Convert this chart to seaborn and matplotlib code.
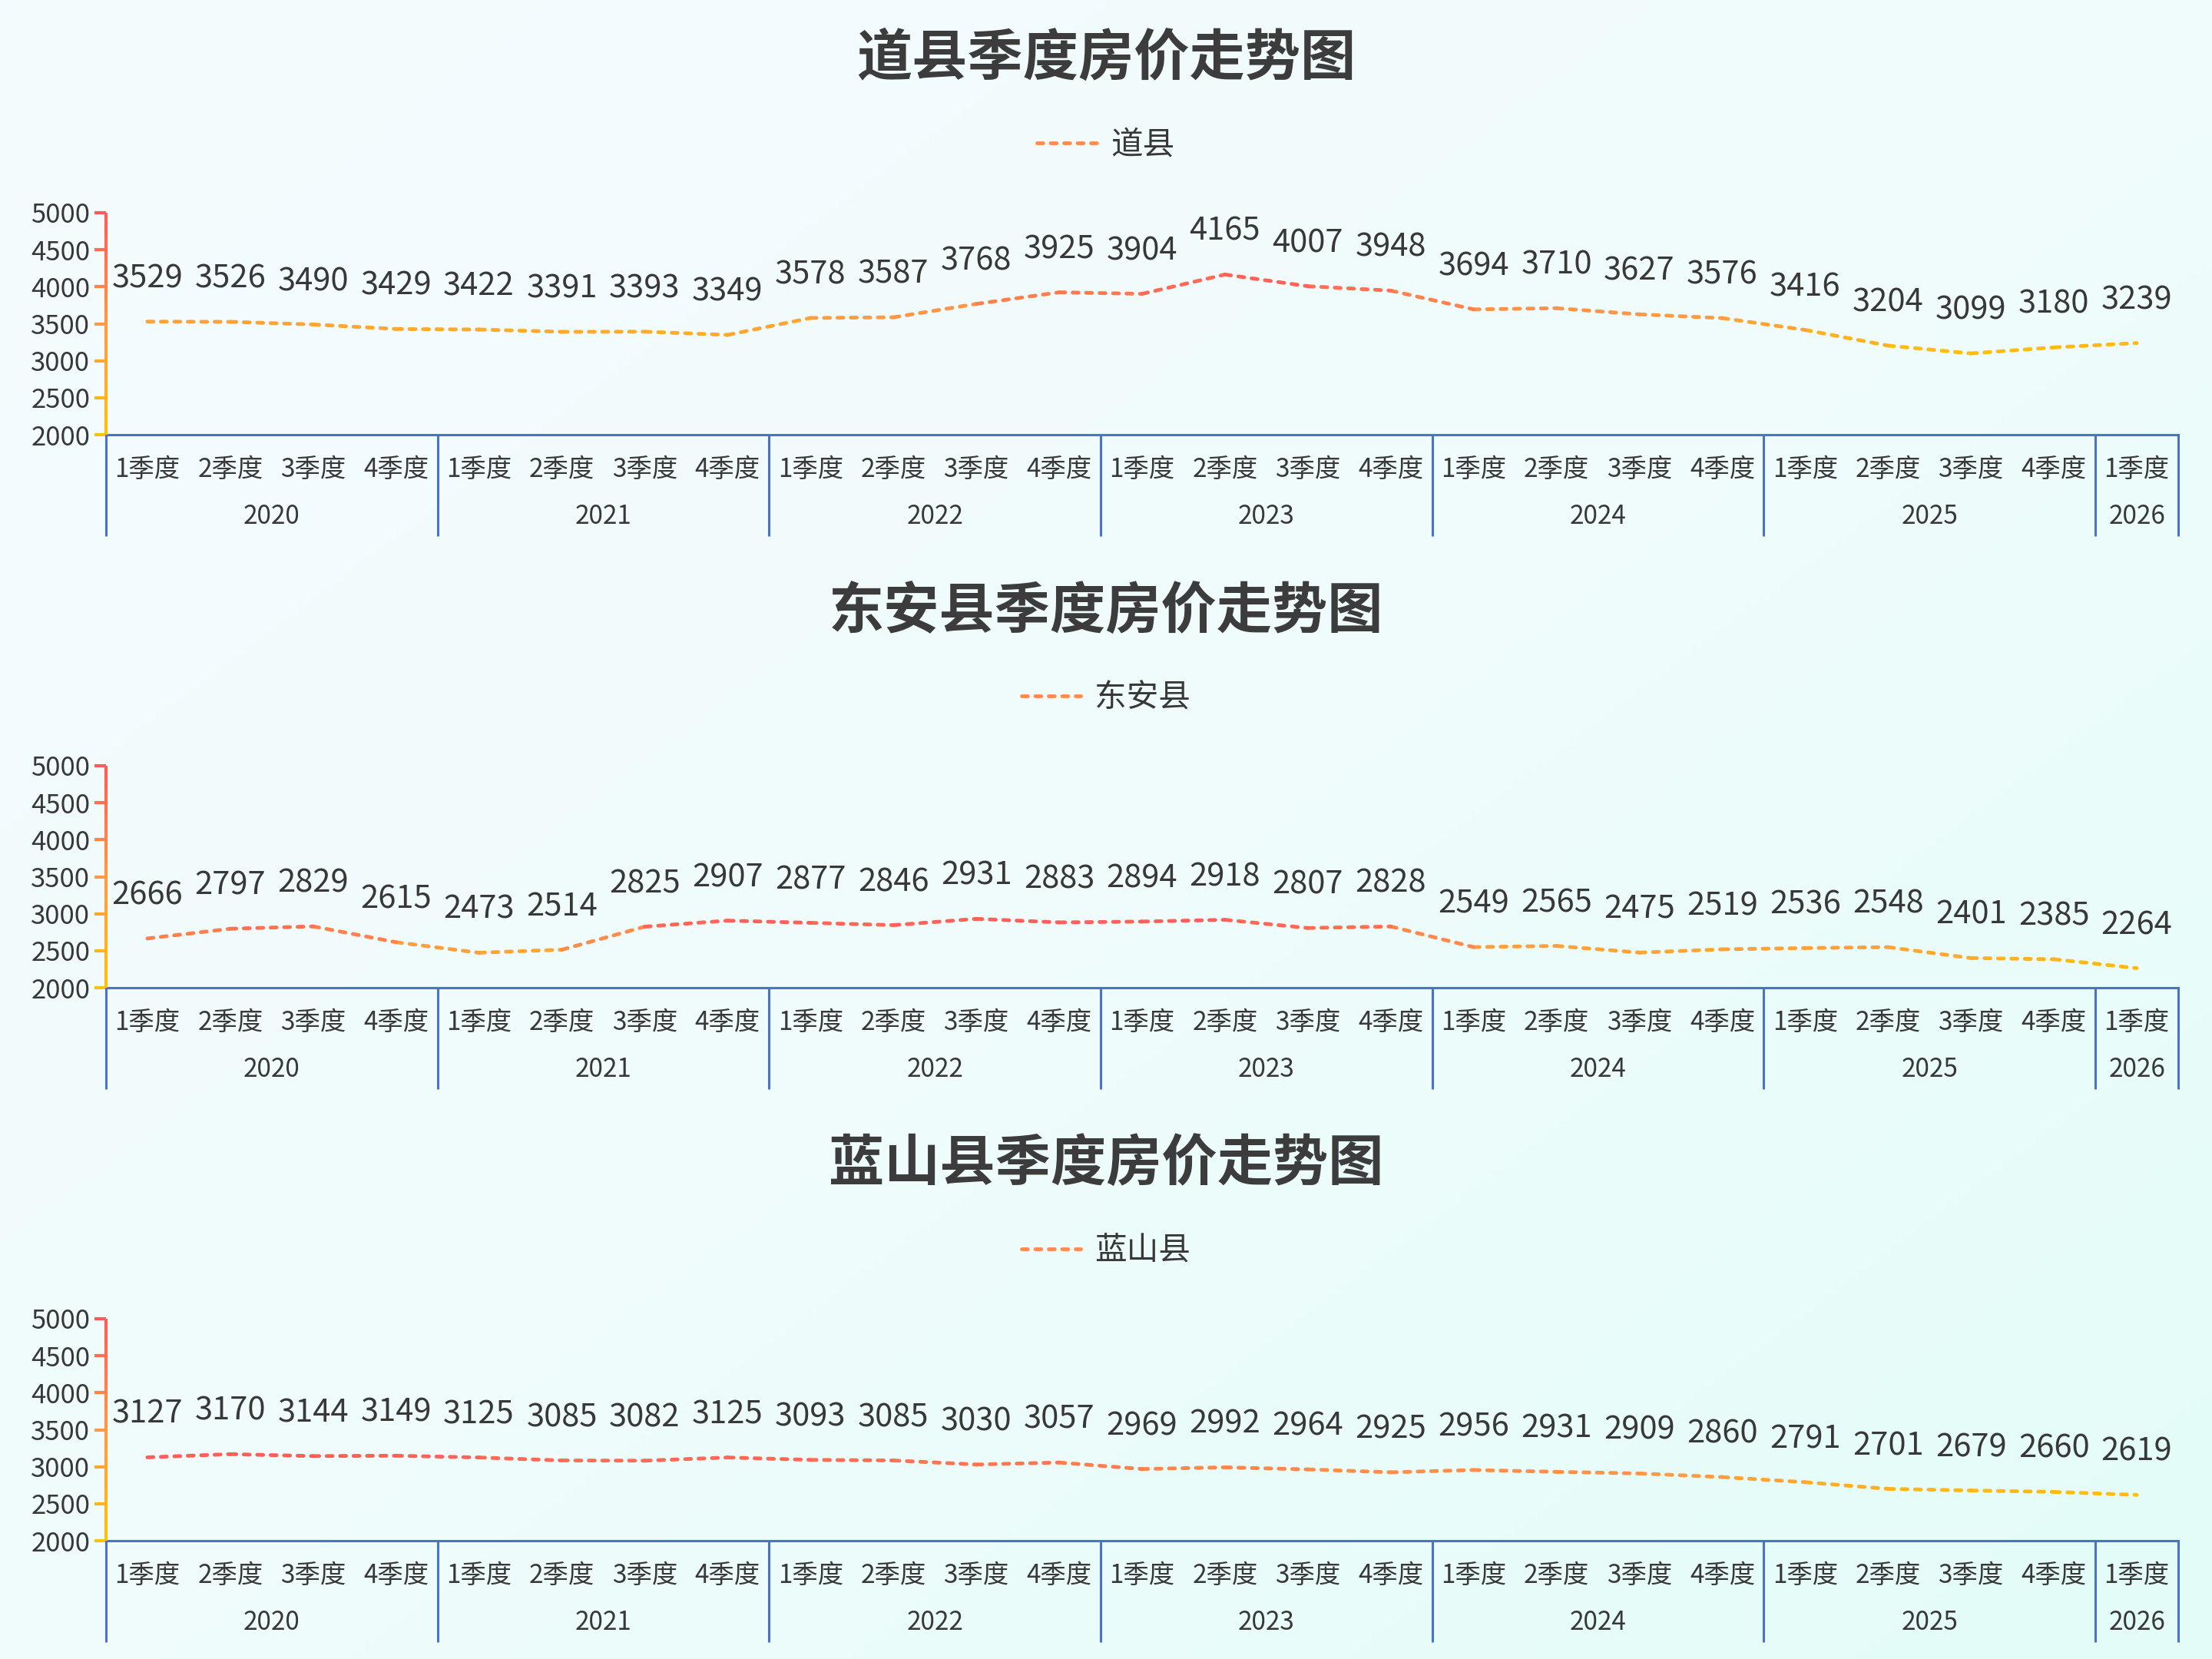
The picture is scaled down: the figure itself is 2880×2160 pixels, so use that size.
import numpy as np
import pandas as pd
import seaborn as sns
import matplotlib
matplotlib.use('Agg')
import matplotlib.pyplot as plt
from matplotlib.colors import LinearSegmentedColormap, Normalize
from matplotlib.collections import LineCollection
from matplotlib.lines import Line2D

# data
quarters = ['1季度', '2季度', '3季度', '4季度']
years = ['2020', '2021', '2022', '2023', '2024', '2025', '2026']
counties = ['道县', '东安县', '蓝山县']
daoxian = [3529, 3526, 3490, 3429, 3422, 3391, 3393, 3349, 3578, 3587, 3768, 3925, 3904,
           4165, 4007, 3948, 3694, 3710, 3627, 3576, 3416, 3204, 3099, 3180, 3239]
dongan = [2666, 2797, 2829, 2615, 2473, 2514, 2825, 2907, 2877, 2846, 2931, 2883, 2894,
          2918, 2807, 2828, 2549, 2565, 2475, 2519, 2536, 2548, 2401, 2385, 2264]
lanshan = [3127, 3170, 3144, 3149, 3125, 3085, 3082, 3125, 3093, 3085, 3030, 3057, 2969,
           2992, 2964, 2925, 2956, 2931, 2909, 2860, 2791, 2701, 2679, 2660, 2619]
series = [daoxian, dongan, lanshan]

sns.set_theme(style='white')
plt.rcParams['font.family'] = ['Noto Sans CJK SC', 'DejaVu Sans']
plt.rcParams['axes.unicode_minus'] = False

text_color = '#383838'
axis_blue = '#4a72c9'
warm = LinearSegmentedColormap.from_list('warm', ['#ffc107', '#ff9a45', '#ff5a5a'])
dash = (0, (1.6, 2.0))

fig = plt.figure(figsize=(14.4, 10.8), dpi=200)

# soft background gradient
bg = fig.add_axes([0, 0, 1, 1], zorder=-10)
gx, gy = np.meshgrid(np.linspace(0, 1, 200), np.linspace(0, 1, 200))
bg_cmap = LinearSegmentedColormap.from_list('bg', ['#f4fbfe', '#f0fcfc', '#e3fcf8'])
bg.imshow((gx + gy) / 2, cmap=bg_cmap, aspect='auto', extent=[0, 1, 0, 1], origin='upper')
bg.axis('off')

H = 2160.0
for k, (name, vals) in enumerate(zip(counties, series)):
    top_px = 277 + 720 * k
    bot_px = 566 + 720 * k
    ax = fig.add_axes([138 / 2880, 1 - bot_px / H, (2836 - 138) / 2880, (bot_px - top_px) / H])
    ax.set_facecolor('none')

    n = len(vals)
    xs = np.arange(n)
    vmin, vmax = min(vals), max(vals)

    # one row pair per segment, coloured by the segment's level
    rows = []
    for i in range(n - 1):
        lvl = (vals[i] + vals[i + 1]) / 2
        rows.append({'seg': i, 'x': xs[i], 'y': vals[i], 'level': lvl})
        rows.append({'seg': i, 'x': xs[i + 1], 'y': vals[i + 1], 'level': lvl})
    df = pd.DataFrame(rows)
    sns.lineplot(data=df, x='x', y='y', hue='level', units='seg', estimator=None, sort=False,
                 palette=warm, hue_norm=Normalize(vmin, vmax), legend=False,
                 linewidth=1.75, ax=ax)
    for ln in ax.lines:
        ln.set_linestyle(dash)
        ln.set_dash_capstyle('round')

    ax.set_xlim(-0.5, n - 0.5)
    ax.set_ylim(2000, 5000)
    ax.set_yticks(range(2000, 5001, 500))
    ax.set_xticks([])
    ax.set_xlabel('')
    ax.set_ylabel('')

    for s in ['top', 'right', 'left']:
        ax.spines[s].set_visible(False)
    ax.spines['bottom'].set_color(axis_blue)
    ax.spines['bottom'].set_linewidth(1.1)

    # gradient y axis line
    t = np.linspace(0, 1, 120)
    segs = [[(0, t[j]), (0, t[j + 1])] for j in range(len(t) - 1)]
    lc = LineCollection(segs, colors=warm((t[:-1] + t[1:]) / 2), linewidths=1.5,
                        transform=ax.transAxes, clip_on=False, zorder=3)
    ax.add_collection(lc)
    ax.tick_params(axis='y', left=True, length=5.4, width=1.5, pad=2,
                   labelsize=12.5, labelcolor=text_color)
    for tk, val in zip(ax.yaxis.get_major_ticks(), range(2000, 5001, 500)):
        tk.tick1line.set_color(warm((val - 2000) / 3000))
        tk.tick1line.set_markeredgecolor(warm((val - 2000) / 3000))

    # value labels
    for x, v in zip(xs, vals):
        ax.annotate(str(v), (x, v), xytext=(0, 16), textcoords='offset points',
                    ha='center', va='baseline', fontsize=15, color=text_color)

    # two-level category axis
    ah = float(bot_px - top_px)
    xt = ax.get_xaxis_transform()
    for i in range(n):
        ax.text(i, -45 / ah, quarters[i % 4], transform=xt, ha='center', va='center',
                fontsize=12, color=text_color, clip_on=False)
    for yi, yr in enumerate(years):
        idx = [i for i in range(n) if i // 4 == yi]
        ax.text(np.mean(idx), -107 / ah, yr, transform=xt, ha='center', va='center',
                fontsize=12, color=text_color, clip_on=False)
    bounds = [-0.5] + [4 * j - 0.5 for j in range(1, len(years))] + [n - 0.5]
    for b in bounds:
        ax.plot([b, b], [0, -132 / ah], transform=xt, color=axis_blue, lw=1.1,
                clip_on=False, solid_capstyle='butt')

    # title and legend
    fig.text(0.5, 1 - (77 + 720 * k) / H, f'{name}季度房价走势图', ha='center', va='center',
             fontsize=26, fontweight='bold', color='#3c3c3c')
    handle = Line2D([], [], color='#ff8c4c', lw=1.75, linestyle=dash, dash_capstyle='round')
    leg = fig.legend([handle], [name], loc='center', bbox_to_anchor=(0.5, 1 - (189 + 720 * k) / H),
                     frameon=False, fontsize=15, handlelength=1.85, handletextpad=0.45)
    for txt in leg.get_texts():
        txt.set_color(text_color)

fig.savefig('out.png', dpi=200)
